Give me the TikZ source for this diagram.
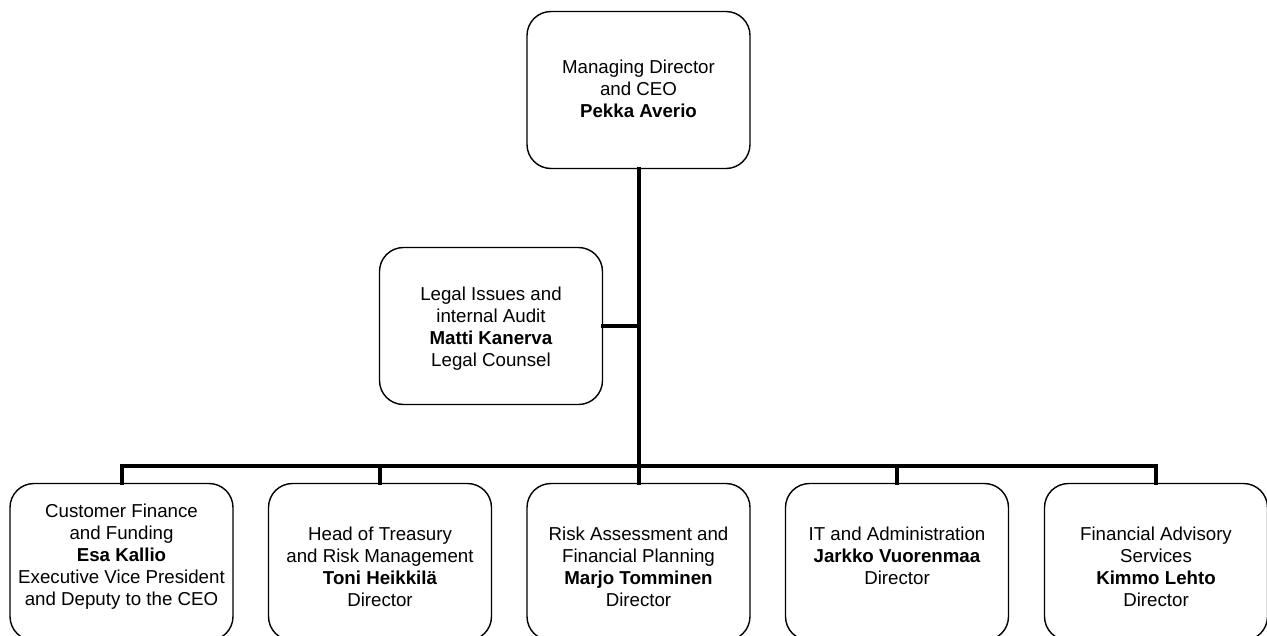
\documentclass[tikz,border=0pt]{standalone}
\usepackage{fontspec}
\setmainfont{Liberation Sans}
\begin{document}
\begin{tikzpicture}[x=1pt,y=-1pt,
  box/.style={draw=black,line width=1.4pt,rounded corners=24pt,minimum width=223pt,minimum height=157pt,inner sep=0pt,fill=white},
  txt/.style={align=center,inner sep=0pt,font=\fontsize{18.7}{22}\selectfont},
  link/.style={line width=4pt,line cap=rect,line join=miter}]
\useasboundingbox (0,0) rectangle (1267,635);
\clip (0,0) rectangle (1267,635);
\fill[white] (0,0) rectangle (1267,635);
% boxes
\node[box] (ceo) at (638.5,90) {};
\node[box] (legal) at (491,326) {};
\node[box] (b1) at (121.5,562) {};
\node[box] (b2) at (380,562) {};
\node[box] (b3) at (638.5,562) {};
\node[box] (b4) at (897,562) {};
\node[box] (b5) at (1156,562) {};
% texts
\node[txt] (tceo) at (638.5,88.5) {Managing Director\\and CEO\\\textbf{Pekka Averio}};
\node[txt] (tlegal) at (491,329) {Legal Issues and\\internal Audit\\\textbf{Matti Kanerva}\\Legal Counsel};
\node[txt] (t1) at (121.5,557) {Customer Finance\\and Funding\\\textbf{Esa Kallio}\\Executive Vice President\\and Deputy to the CEO};
\node[txt] (t2) at (380,566.5) {Head of Treasury\\and Risk Management\\\textbf{Toni Heikkilä}\\Director};
\node[txt] (t3) at (638.5,566.5) {Risk Assessment and\\Financial Planning\\\textbf{Marjo Tomminen}\\Director};
\node[txt] (t4) at (897,566.5) {IT and Administration\\\textbf{Jarkko Vuorenmaa}\\Director\\\phantom{X}};
\node[txt] (t5) at (1156,566.5) {Financial Advisory\\Services\\\textbf{Kimmo Lehto}\\Director};
% connectors
\coordinate (bar) at (638.5,466);
\draw[link] (ceo.south) -- (bar);
\draw[link] (legal.east) -- (legal.east -| ceo.south);
\draw[link] (b1.north) -- (b1.north |- bar) -- (b5.north |- bar) -- (b5.north);
\draw[link] (b2.north) -- (b2.north |- bar);
\draw[link] (b3.north) -- (bar);
\draw[link] (b4.north) -- (b4.north |- bar);
\end{tikzpicture}
\end{document}
